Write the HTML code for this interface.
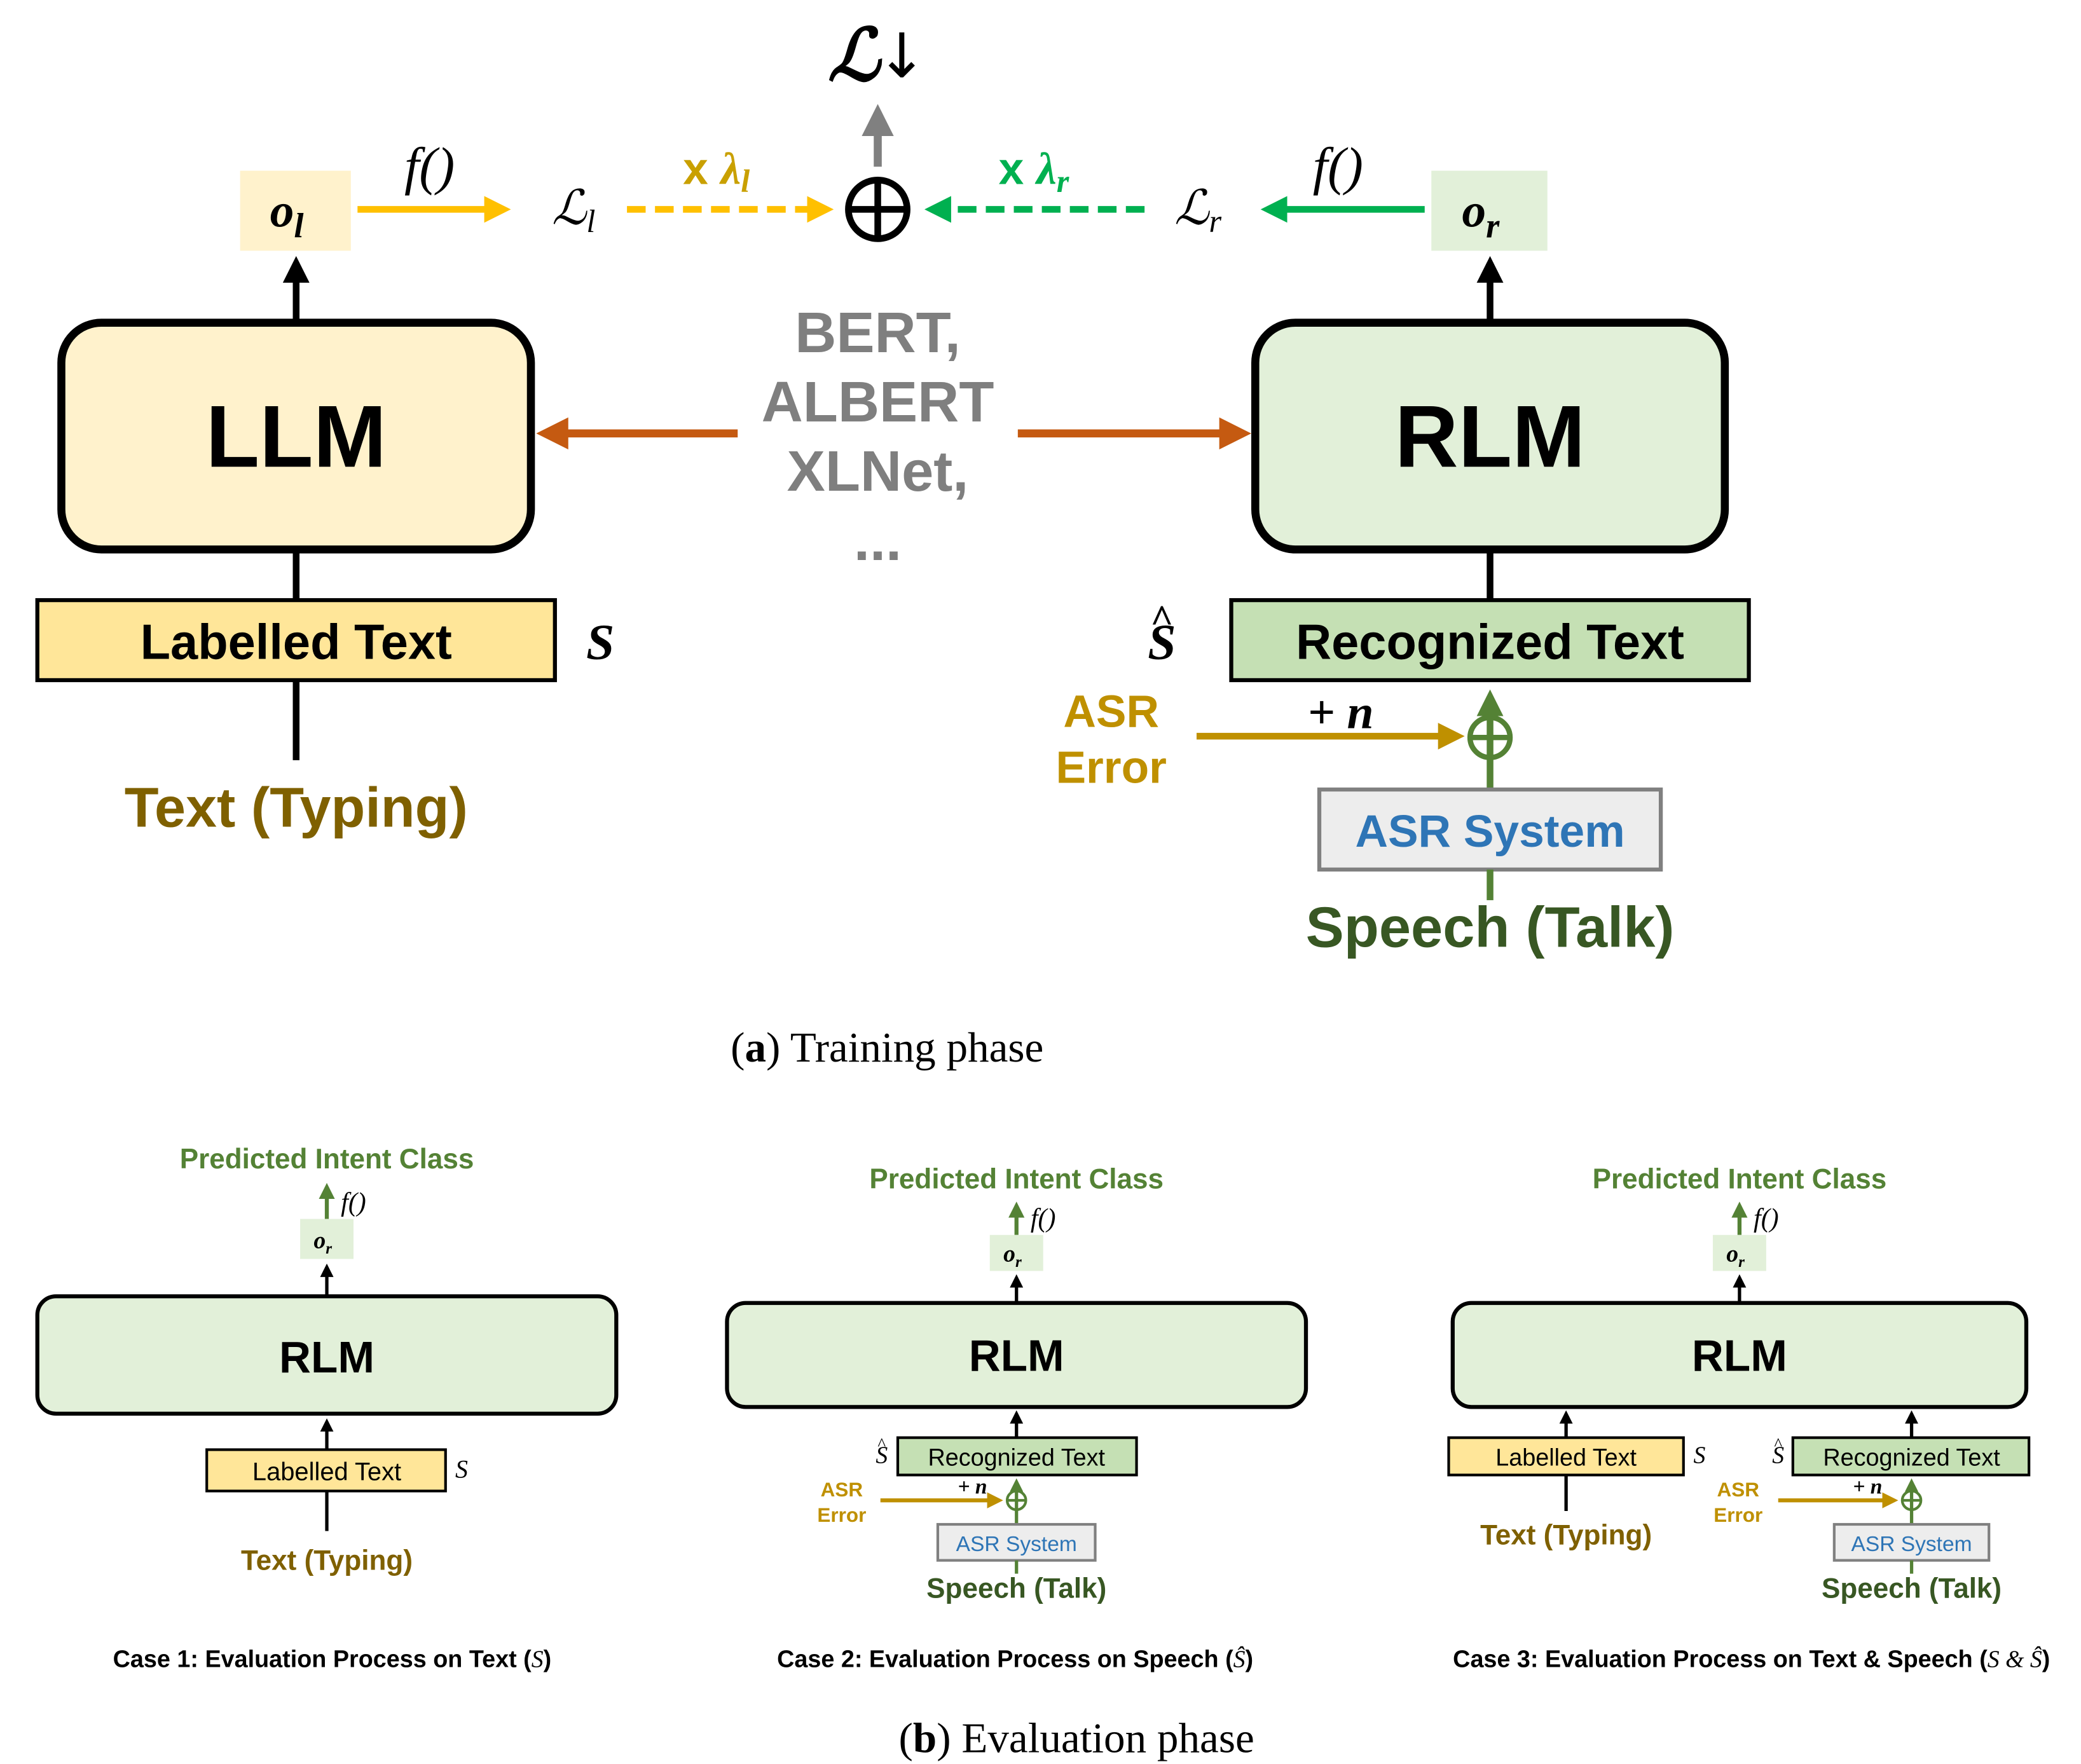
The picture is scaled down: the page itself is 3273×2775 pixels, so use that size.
<!DOCTYPE html>
<html><head><meta charset="utf-8"><style>html,body{margin:0;padding:0;background:#fff}svg{display:block}</style></head>
<body>
<svg width="3273" height="2775" viewBox="0 0 1560 1322.7" preserveAspectRatio="none" xmlns="http://www.w3.org/2000/svg">
<defs>
<marker id="ab" markerWidth="4" markerHeight="4" refX="3" refY="2" orient="auto" markerUnits="strokeWidth"><path d="M0,0 L4,2 L0,4 z" fill="#000"/></marker>
<marker id="ag" markerWidth="4" markerHeight="4" refX="3" refY="2" orient="auto" markerUnits="strokeWidth"><path d="M0,0 L4,2 L0,4 z" fill="#808080"/></marker>
<marker id="ay" markerWidth="4" markerHeight="4" refX="3" refY="2" orient="auto" markerUnits="strokeWidth"><path d="M0,0 L4,2 L0,4 z" fill="#ffc000"/></marker>
<marker id="agr" markerWidth="4" markerHeight="4" refX="3" refY="2" orient="auto" markerUnits="strokeWidth"><path d="M0,0 L4,2 L0,4 z" fill="#00b050"/></marker>
<marker id="ao" markerWidth="4" markerHeight="4" refX="3" refY="2" orient="auto" markerUnits="strokeWidth"><path d="M0,0 L4,2 L0,4 z" fill="#c55a11"/></marker>
<marker id="aa" markerWidth="4" markerHeight="4" refX="3" refY="2" orient="auto" markerUnits="strokeWidth"><path d="M0,0 L4,2 L0,4 z" fill="#bf9000"/></marker>
<marker id="ad" markerWidth="4" markerHeight="4" refX="3" refY="2" orient="auto" markerUnits="strokeWidth"><path d="M0,0 L4,2 L0,4 z" fill="#548235"/></marker>
</defs>
<g font-family="Liberation Sans, sans-serif" font-weight="bold" text-anchor="middle">
<!-- top -->
<text x="640" y="60" font-family="Liberation Serif, serif" font-style="italic" font-size="54">ℒ</text>
<text x="676" y="58" font-family="DejaVu Sans, sans-serif" font-weight="normal" font-size="46">↓</text>
<line x1="658" y1="125" x2="658" y2="84" stroke="#808080" stroke-width="6" marker-end="url(#ag)"/>
<rect x="180" y="128" width="83" height="60" fill="#fff2cc"/>
<text x="215" y="170" font-family="Liberation Serif, serif" font-style="italic" font-size="36">o<tspan font-size="26" dy="8">l</tspan></text>
<rect x="1073" y="128" width="87" height="60" fill="#e2f0d9"/>
<text x="1110" y="170" font-family="Liberation Serif, serif" font-style="italic" font-size="36">o<tspan font-size="26" dy="8">r</tspan></text>
<line x1="268" y1="157" x2="378" y2="157" stroke="#ffc000" stroke-width="5" marker-end="url(#ay)"/>
<text x="322" y="138" font-family="Liberation Serif, serif" font-style="italic" font-size="40" font-weight="normal">f()</text>
<text x="430" y="168" font-family="Liberation Serif, serif" font-style="italic" font-size="36" font-weight="normal">ℒ<tspan font-size="24" dy="6">l</tspan></text>
<line x1="470" y1="157" x2="620" y2="157" stroke="#ffc000" stroke-width="5" stroke-dasharray="14,7" marker-end="url(#ay)"/>
<text x="537" y="138" fill="#c9a000" font-size="34">x <tspan font-family="Liberation Serif, serif" font-style="italic">λ<tspan font-size="24" dy="6">l</tspan></tspan></text>
<circle cx="658" cy="157" r="22" fill="#fff" stroke="#000" stroke-width="5"/>
<line x1="636" y1="157" x2="680" y2="157" stroke="#000" stroke-width="5"/><line x1="658" y1="135" x2="658" y2="179" stroke="#000" stroke-width="5"/>
<line x1="858" y1="157" x2="698" y2="157" stroke="#00b050" stroke-width="5" stroke-dasharray="14,7" marker-end="url(#agr)"/>
<text x="775" y="138" fill="#00b050" font-size="34">x <tspan font-family="Liberation Serif, serif" font-style="italic">λ<tspan font-size="24" dy="6">r</tspan></tspan></text>
<text x="898" y="168" font-family="Liberation Serif, serif" font-style="italic" font-size="36" font-weight="normal">ℒ<tspan font-size="24" dy="6">r</tspan></text>
<line x1="1068" y1="157" x2="950" y2="157" stroke="#00b050" stroke-width="5" marker-end="url(#agr)"/>
<text x="1003" y="138" font-family="Liberation Serif, serif" font-style="italic" font-size="40" font-weight="normal">f()</text>
<line x1="222" y1="242" x2="222" y2="197" stroke="#000" stroke-width="5" marker-end="url(#ab)"/>
<line x1="1117" y1="242" x2="1117" y2="197" stroke="#000" stroke-width="5" marker-end="url(#ab)"/>
<rect x="46" y="242" width="352" height="170" rx="30" fill="#fff2cc" stroke="#000" stroke-width="6"/>
<text x="222" y="350" font-size="66">LLM</text>
<rect x="941" y="242" width="352" height="170" rx="30" fill="#e2f0d9" stroke="#000" stroke-width="6"/>
<text x="1117" y="350" font-size="66">RLM</text>
<line x1="222" y1="412" x2="222" y2="450" stroke="#000" stroke-width="5"/>
<line x1="1117" y1="412" x2="1117" y2="450" stroke="#000" stroke-width="5"/>
<rect x="28" y="450" width="388" height="60" fill="#ffe699" stroke="#000" stroke-width="3"/>
<text x="222" y="494" font-size="37">Labelled Text</text>
<text x="450" y="494" font-family="Liberation Serif, serif" font-style="italic" font-size="38">S</text>
<line x1="222" y1="510" x2="222" y2="570" stroke="#000" stroke-width="5"/>
<text x="222" y="620" fill="#7f6000" font-size="42">Text (Typing)</text>
<line x1="553" y1="325" x2="408" y2="325" stroke="#c55a11" stroke-width="6" marker-end="url(#ao)"/>
<line x1="763" y1="325" x2="932" y2="325" stroke="#c55a11" stroke-width="6" marker-end="url(#ao)"/>
<g fill="#7f7f7f" font-size="43"><text x="658" y="264">BERT,</text><text x="658" y="316">ALBERT</text><text x="658" y="368">XLNet,</text><text x="658" y="420">...</text></g>
<rect x="923" y="450" width="388" height="60" fill="#c5e0b4" stroke="#000" stroke-width="3"/>
<text x="1117" y="494" font-size="37">Recognized Text</text>
<text x="871" y="494" font-family="Liberation Serif, serif" font-style="italic" font-size="38">S</text>
<text x="871" y="474" font-family="Liberation Serif, serif" font-size="30">^</text>
<line x1="1117" y1="592" x2="1117" y2="522" stroke="#548235" stroke-width="5" marker-end="url(#ad)"/>
<circle cx="1117" cy="553" r="15" fill="none" stroke="#548235" stroke-width="4"/>
<line x1="1102" y1="553" x2="1132" y2="553" stroke="#548235" stroke-width="4"/>
<line x1="897" y1="552" x2="1093" y2="552" stroke="#bf9000" stroke-width="5" marker-end="url(#aa)"/>
<text x="833" y="545" fill="#bf9000" font-size="34">ASR</text><text x="833" y="587" fill="#bf9000" font-size="34">Error</text>
<text x="1005" y="546" font-family="Liberation Serif, serif" font-style="italic" font-size="36">+ n</text>
<rect x="989" y="592" width="256" height="60" fill="#ededed" stroke="#808080" stroke-width="3"/>
<text x="1117" y="635" fill="#2e75b6" font-size="34">ASR System</text>
<line x1="1117" y1="652" x2="1117" y2="675" stroke="#548235" stroke-width="5"/>
<text x="1117" y="710" fill="#385723" font-size="43">Speech (Talk)</text>
<text x="665" y="796" font-family="Liberation Serif, serif" font-weight="normal" font-size="32">(<tspan font-weight="bold">a</tspan>)  Training phase</text>

<!-- case 1 -->
<text x="245" y="876" fill="#548235" font-size="21">Predicted Intent Class</text>
<line x1="245" y1="914" x2="245" y2="890" stroke="#548235" stroke-width="3" marker-end="url(#ad)"/>
<text x="265" y="908" font-family="Liberation Serif, serif" font-style="italic" font-weight="normal" font-size="20">f()</text>
<rect x="225" y="914" width="40" height="30" fill="#e2f0d9"/>
<text x="242" y="936" font-family="Liberation Serif, serif" font-style="italic" font-size="18">o<tspan font-size="12" dy="4">r</tspan></text>
<line x1="245" y1="972" x2="245" y2="950" stroke="#000" stroke-width="2.5" marker-end="url(#ab)"/>
<rect x="28" y="972" width="434" height="88" rx="14" fill="#e2f0d9" stroke="#000" stroke-width="3"/>
<text x="245" y="1029" font-size="33">RLM</text>
<line x1="245" y1="1087" x2="245" y2="1066" stroke="#000" stroke-width="2.5" marker-end="url(#ab)"/>
<rect x="155" y="1087" width="179" height="31" fill="#ffe699" stroke="#000" stroke-width="2"/>
<text x="245" y="1110" font-size="19" font-weight="normal">Labelled Text</text>
<text x="346" y="1108" font-family="Liberation Serif, serif" font-style="italic" font-weight="normal" font-size="19">S</text>
<line x1="245" y1="1118" x2="245" y2="1148" stroke="#000" stroke-width="2.5"/>
<text x="245" y="1177" fill="#7f6000" font-size="21">Text (Typing)</text>
<text x="249" y="1250" font-size="18">Case 1: Evaluation Process on Text (<tspan font-family="Liberation Serif, serif" font-style="italic" font-weight="normal">S</tspan>)</text>

<!-- case 2 and 3 right parts -->
<g id="c2">
<text x="762" y="891" fill="#548235" font-size="21">Predicted Intent Class</text>
<line x1="762" y1="926" x2="762" y2="904" stroke="#548235" stroke-width="3" marker-end="url(#ad)"/>
<text x="782" y="920" font-family="Liberation Serif, serif" font-style="italic" font-weight="normal" font-size="20">f()</text>
<rect x="742" y="926" width="40" height="27" fill="#e2f0d9"/>
<text x="759" y="946" font-family="Liberation Serif, serif" font-style="italic" font-size="18">o<tspan font-size="12" dy="4">r</tspan></text>
<line x1="762" y1="977" x2="762" y2="958" stroke="#000" stroke-width="2.5" marker-end="url(#ab)"/>
<rect x="545" y="977" width="434" height="78" rx="14" fill="#e2f0d9" stroke="#000" stroke-width="3"/>
<text x="762" y="1028" font-size="33">RLM</text>
<line x1="762" y1="1078" x2="762" y2="1060" stroke="#000" stroke-width="2.5" marker-end="url(#ab)"/>
<rect x="673" y="1078" width="179" height="28" fill="#c5e0b4" stroke="#000" stroke-width="2"/>
<text x="762" y="1099" font-size="18" font-weight="normal">Recognized Text</text>
<text x="661" y="1097" font-family="Liberation Serif, serif" font-style="italic" font-weight="normal" font-size="18">S</text>
<text x="661" y="1087" font-family="Liberation Serif, serif" font-weight="normal" font-size="13">^</text>
<line x1="762" y1="1143" x2="762" y2="1111" stroke="#548235" stroke-width="2.5" marker-end="url(#ad)"/>
<circle cx="762" cy="1125" r="7" fill="none" stroke="#548235" stroke-width="2"/>
<line x1="755" y1="1125" x2="769" y2="1125" stroke="#548235" stroke-width="2"/>
<line x1="660" y1="1125" x2="749" y2="1125" stroke="#bf9000" stroke-width="3" marker-end="url(#aa)"/>
<text x="631" y="1122" fill="#bf9000" font-size="15">ASR</text><text x="631" y="1141" fill="#bf9000" font-size="15">Error</text>
<text x="729" y="1120" font-family="Liberation Serif, serif" font-style="italic" font-size="16">+ n</text>
<rect x="703" y="1143" width="118" height="27" fill="#ededed" stroke="#808080" stroke-width="2"/>
<text x="762" y="1163" fill="#2e75b6" font-size="16" font-weight="normal">ASR System</text>
<line x1="762" y1="1170" x2="762" y2="1180" stroke="#548235" stroke-width="2.5"/>
<text x="762" y="1198" fill="#385723" font-size="21">Speech (Talk)</text>
</g>
<text x="761" y="1250" font-size="18">Case 2: Evaluation Process on Speech (<tspan font-family="Liberation Serif, serif" font-style="italic" font-weight="normal">Ŝ</tspan>)</text>

<!-- case 3 -->
<text x="1304" y="891" fill="#548235" font-size="21">Predicted Intent Class</text>
<line x1="1304" y1="926" x2="1304" y2="904" stroke="#548235" stroke-width="3" marker-end="url(#ad)"/>
<text x="1324" y="920" font-family="Liberation Serif, serif" font-style="italic" font-weight="normal" font-size="20">f()</text>
<rect x="1284" y="926" width="40" height="27" fill="#e2f0d9"/>
<text x="1301" y="946" font-family="Liberation Serif, serif" font-style="italic" font-size="18">o<tspan font-size="12" dy="4">r</tspan></text>
<line x1="1304" y1="977" x2="1304" y2="958" stroke="#000" stroke-width="2.5" marker-end="url(#ab)"/>
<rect x="1089" y="977" width="430" height="78" rx="14" fill="#e2f0d9" stroke="#000" stroke-width="3"/>
<text x="1304" y="1028" font-size="33">RLM</text>
<line x1="1174" y1="1078" x2="1174" y2="1060" stroke="#000" stroke-width="2.5" marker-end="url(#ab)"/>
<rect x="1086" y="1078" width="176" height="28" fill="#ffe699" stroke="#000" stroke-width="2"/>
<text x="1174" y="1099" font-size="18" font-weight="normal">Labelled Text</text>
<text x="1274" y="1097" font-family="Liberation Serif, serif" font-style="italic" font-weight="normal" font-size="18">S</text>
<line x1="1174" y1="1106" x2="1174" y2="1133" stroke="#000" stroke-width="2.5"/>
<text x="1174" y="1158" fill="#7f6000" font-size="21">Text (Typing)</text>
<g transform="translate(671,0)">
<line x1="762" y1="1078" x2="762" y2="1060" stroke="#000" stroke-width="2.5" marker-end="url(#ab)"/>
<rect x="673" y="1078" width="177" height="28" fill="#c5e0b4" stroke="#000" stroke-width="2"/>
<text x="762" y="1099" font-size="18" font-weight="normal">Recognized Text</text>
<text x="662" y="1097" font-family="Liberation Serif, serif" font-style="italic" font-weight="normal" font-size="18">S</text>
<text x="662" y="1087" font-family="Liberation Serif, serif" font-weight="normal" font-size="13">^</text>
<line x1="762" y1="1143" x2="762" y2="1111" stroke="#548235" stroke-width="2.5" marker-end="url(#ad)"/>
<circle cx="762" cy="1125" r="7" fill="none" stroke="#548235" stroke-width="2"/>
<line x1="755" y1="1125" x2="769" y2="1125" stroke="#548235" stroke-width="2"/>
<line x1="662" y1="1125" x2="749" y2="1125" stroke="#bf9000" stroke-width="3" marker-end="url(#aa)"/>
<text x="632" y="1122" fill="#bf9000" font-size="15">ASR</text><text x="632" y="1141" fill="#bf9000" font-size="15">Error</text>
<text x="729" y="1120" font-family="Liberation Serif, serif" font-style="italic" font-size="16">+ n</text>
<rect x="704" y="1143" width="116" height="27" fill="#ededed" stroke="#808080" stroke-width="2"/>
<text x="762" y="1163" fill="#2e75b6" font-size="16" font-weight="normal">ASR System</text>
<line x1="762" y1="1170" x2="762" y2="1180" stroke="#548235" stroke-width="2.5"/>
<text x="762" y="1198" fill="#385723" font-size="21">Speech (Talk)</text>
</g>
<text x="1313" y="1250" font-size="18">Case 3: Evaluation Process on Text &amp; Speech (<tspan font-family="Liberation Serif, serif" font-style="italic" font-weight="normal">S &amp; Ŝ</tspan>)</text>
<text x="807" y="1314" font-family="Liberation Serif, serif" font-weight="normal" font-size="32">(<tspan font-weight="bold">b</tspan>)  Evaluation phase</text>
</g>
</svg>
</body></html>
